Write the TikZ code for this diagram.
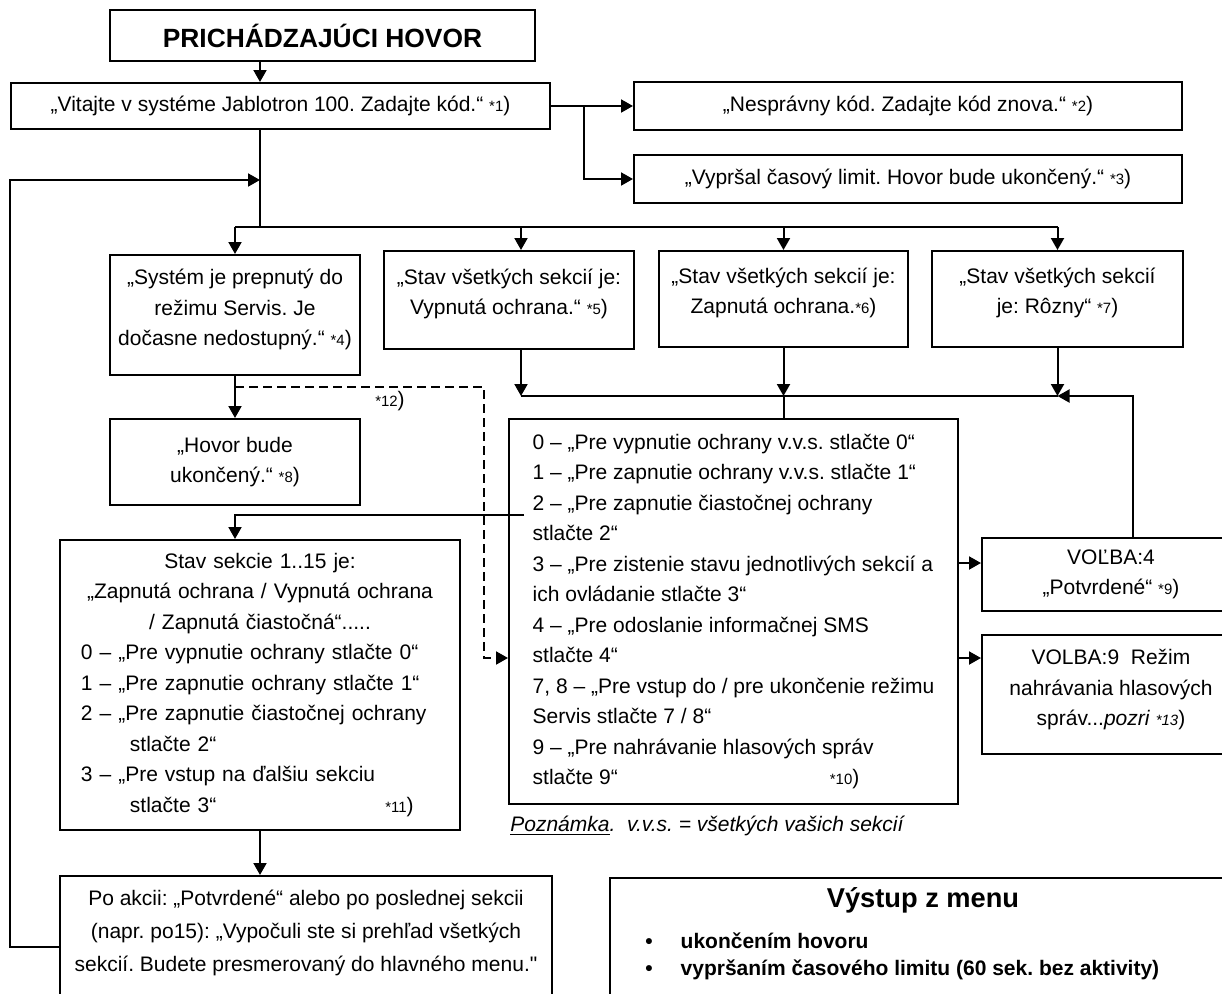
\documentclass[tikz,border=0pt]{standalone}
\usepackage{fontspec}
\setmainfont{Liberation Sans}
\newfontfamily\plainfont{Liberation Sans}
\usetikzlibrary{arrows.meta}
\setlength{\parindent}{0pt}
\frenchspacing

\newcommand{\ftag}[1]{{\fontsize{8.5}{10}\selectfont *#1})}

\tikzset{
  box/.style={draw, line width=0.4mm, inner sep=0pt, align=center},
  wire/.style={line width=0.4mm},
  arr/.style={line width=0.4mm, -{Triangle[length=2.4mm, width=2.6mm]}},
}

\begin{document}
\begin{tikzpicture}[x=0.2mm, y=-0.2mm, font=\fontsize{11.95}{17.36}\selectfont]
\useasboundingbox (0,0) rectangle (1222,994);
\clip (0,0) rectangle (1222,994);

% top row
\node[box, minimum width=85mm, minimum height=10.2mm, font=\fontsize{15}{18}\selectfont\bfseries] (title) at (322.5,35.5) {PRICHÁDZAJÚCI HOVOR};
\node[box, minimum width=107.8mm, minimum height=9.2mm] (welcome) at (280.5,106) {„Vitajte v systéme Jablotron 100. Zadajte kód.“ \ftag{1}};
\node[box, minimum width=109.6mm, minimum height=9.6mm] (wrong) at (908,106) {„Nesprávny kód. Zadajte kód znova.“ \ftag{2}};
\node[box, minimum width=109.6mm, minimum height=9.6mm] (timeout) at (908,179) {„Vypršal časový limit. Hovor bude ukončený.“ \ftag{3}};

% states
\node[box, minimum width=50mm, minimum height=24mm] (service) at (235,315) {„Systém je prepnutý do\\režimu Servis. Je\\dočasne nedostupný.“ \ftag{4}\\[-3.2mm]\mbox{}};
\node[box, minimum width=50mm, minimum height=19.6mm] (off) at (509,300) {„Stav všetkých sekcií je:\\Vypnutá ochrana.“ \ftag{5}\\[-2.9mm]\mbox{}};
\node[box, minimum width=49.8mm, minimum height=19.2mm] (on) at (783.5,299) {„Stav všetkých sekcií je:\\Zapnutá ochrana.\ftag{6}\\[-2.9mm]\mbox{}};
\node[box, minimum width=50.2mm, minimum height=19.2mm] (mixed) at (1057.5,299) {„Stav všetkých sekcií\\je: Rôzny“ \ftag{7}\\[-2.9mm]\mbox{}};
\node[box, minimum width=50mm, minimum height=17.2mm] (hangup) at (235,462) {„Hovor bude\\ukončený.“ \ftag{8}};

% main menu
\node[box, minimum width=89.8mm, minimum height=77mm, align=left] (menu) at (733.5,611.5) {0 – „Pre vypnutie ochrany v.v.s. stlačte 0“\\1 – „Pre zapnutie ochrany v.v.s. stlačte 1“\\2 – „Pre zapnutie čiastočnej ochrany\\stlačte 2“\\3 – „Pre zistenie stavu jednotlivých sekcií a\\ich ovládanie stlačte 3“\\4 – „Pre odoslanie informačnej SMS\\stlačte 4“\\7, 8 – „Pre vstup do / pre ukončenie režimu\\Servis stlačte 7 / 8“\\9 – „Pre nahrávanie hlasových správ\\stlačte 9“\hspace{42.4mm}\ftag{10}};
\node[box, minimum width=51.6mm, minimum height=14.6mm] (opt4) at (1111,574.5) {VOĽBA:4\\„Potvrdené“ \ftag{9}};
\node[box, minimum width=51.6mm, minimum height=23.8mm] (opt9) at (1111,694.5) {VOLBA:9\ \ Režim\\nahrávania hlasových\\správ...\textit{pozri} {\fontsize{8.5}{10}\selectfont\itshape *13})\\[-3.4mm]\mbox{}};

% sections
\node[box, minimum width=80mm, minimum height=58mm, text width=71.6mm, align=left] (sections) at (260,685) {{\centering Stav sekcie 1..15 je:\\„Zapnutá ochrana / Vypnutá ochrana\\/ Zapnutá čiastočná“.....\par}0 – „Pre vypnutie ochrany stlačte 0“\\1 – „Pre zapnutie ochrany stlačte 1“\\2 – „Pre zapnutie čiastočnej ochrany\\\hspace*{9.8mm}stlačte 2“\\3 – „Pre vstup na ďalšiu sekciu\\\hspace*{9.8mm}stlačte 3“\hspace{33.8mm}\ftag{11}};
\node[box, minimum width=98.4mm, minimum height=28.4mm, font=\fontsize{11.95}{18.8}\selectfont] (after) at (306,947) {Po akcii: „Potvrdené“ alebo po poslednej sekcii\\(napr. po15): „Vypočuli ste si prehľad všetkých\\sekcií. Budete presmerovaný do hlavného menu.{\plainfont"}\\\mbox{}};

% notes
\node (tag12) at (390,401) {\ftag{12}};
\node[anchor=west, inner sep=0pt, font=\fontsize{11.95}{17.36}\selectfont\itshape] (note) at (510,826) {\underline{Poznámka}.\ \ v.v.s. = všetkých vašich sekcií};
\node[box, anchor=north west, minimum width=130mm, minimum height=30mm] (exit) at (609,877) {};
\node[font=\fontsize{15.5}{18}\selectfont\bfseries] (exithead) at (923,900) {Výstup z menu};
\node[anchor=west, inner sep=0pt, align=left, font=\fontsize{11.95}{15.4}\selectfont\bfseries] (exitlist) at (645,956.5) {\textbullet\hspace{5.6mm}ukončením hovoru\\\textbullet\hspace{5.6mm}vypršaním časového limitu (60 sek. bez aktivity)};

% helper points
\coordinate (trunk) at (260,227);
\coordinate (fork) at (584,106);
\coordinate (loopin) at (260,180);
\coordinate (dashstart) at (235,387);
\coordinate (dashturn) at (484,658);
\coordinate (merge) at (783.5,396);
\coordinate (back) at (524,515);
\coordinate (offtop) at ([xshift=2.4mm]off.north);
\coordinate (offbot) at ([xshift=2.4mm]off.south);
\coordinate (opt4top) at ([xshift=4.4mm]opt4.north);
\coordinate (opt4in) at ([yshift=2.3mm]opt4.west);
\coordinate (opt9in) at ([yshift=7.3mm]opt9.west);
\coordinate (secin) at ([xshift=-5mm]sections.north);

% connectors
\draw[arr] (title.south -| trunk) -- (welcome.north -| trunk);
\draw[arr] (welcome.east) -- (wrong.west);
\draw[arr] (fork) |- (timeout.west);
\draw[wire] (welcome.south -| trunk) -- (trunk);
\draw[wire] (service.north |- trunk) -- (mixed.north |- trunk);
\draw[arr] (service.north |- trunk) -- (service.north);
\draw[arr] (offtop |- trunk) -- (offtop);
\draw[arr] (on.north |- trunk) -- (on.north);
\draw[arr] (mixed.north |- trunk) -- (mixed.north);
\draw[arr] (service.south) -- (hangup.north);
\draw[arr, dash pattern=on 1.7mm off 1.1mm] (dashstart) -| (dashturn) -- (dashturn -| menu.west);
\draw[arr] (offbot) -- (offbot |- merge);
\draw[arr] (on.south) -- (merge);
\draw[arr] (mixed.south) -- (mixed.south |- merge);
\draw[wire] (offbot |- merge) -- (mixed.south |- merge);
\draw[arr] (opt4top) |- (mixed.south |- merge);
\draw[wire] (merge) -- (merge |- menu.north);
\draw[arr] (back) -| (secin);
\draw[arr] (opt4in -| menu.east) -- (opt4in);
\draw[arr] (opt9in -| menu.east) -- (opt9in);
\draw[arr] (sections.south) -- (sections.south |- after.north);
\draw[arr] (after.west) -- ++(-49,0) |- (loopin);
\end{tikzpicture}
\end{document}
